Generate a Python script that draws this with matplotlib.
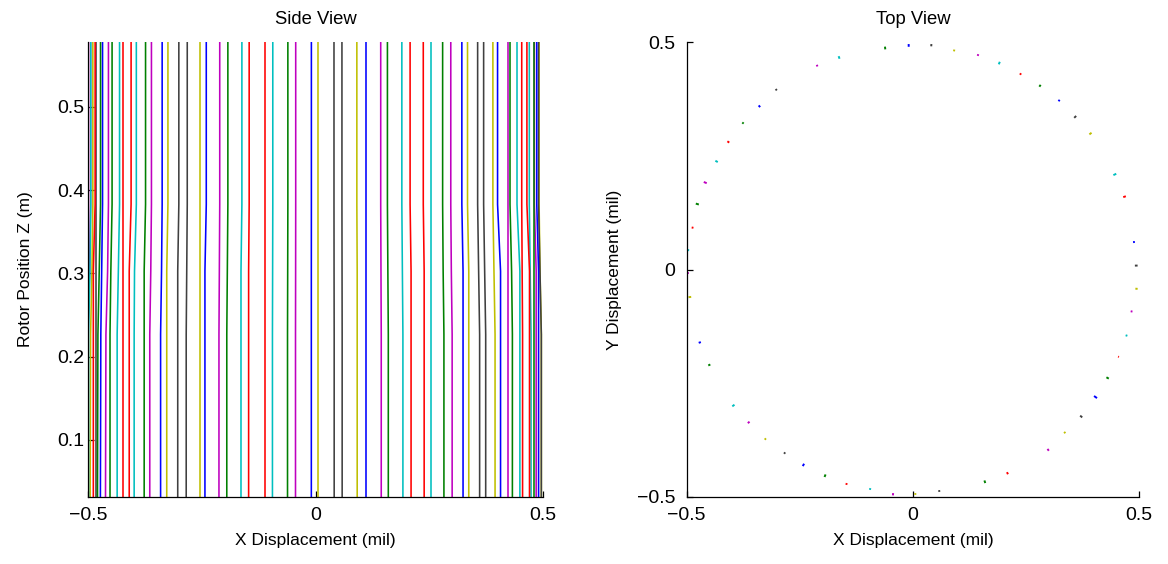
import numpy as np
import matplotlib
matplotlib.use("Agg")
import matplotlib.pyplot as plt

plt.rcParams["font.family"] = ["Liberation Sans", "DejaVu Sans"]
plt.rcParams["font.size"] = 12.5

# bearing / disk stations along the shaft (m)
z_nodes = [0.0316, 0.2266, 0.3026, 0.3829, 0.5776]

# whirl orbit, one entry per time step: phase angle (deg) and mean radius (mil)
angle_deg = [180.9, -173.0, -167.0, -161.2, -155.0, -149.0, -143.0, -137.2, -131.2, -125.1,
             -119.4, -113.2, -107.3, -101.1, -95.1, -89.4, -83.2, -77.0, -71.2, -65.0,
             -59.0, -53.0, -46.9, -41.0, -34.8, -29.0, -22.9, -17.1, -10.8, -4.9,
             1.0, 7.05, 13.0, 18.9, 25.1, 31.0, 37.3, 43.1, 49.0, 55.2,
             61.05, 67.2, 73.05, 79.3, 85.3, 91.1, 97.2, 103.0, 109.3, 115.3,
             121.0, 127.4, 133.4, 139.4, 145.5, 151.3, 157.4, 163.2, 169.3, 175.1]
radius = [0.4972, 0.4957, 0.4950, 0.4971, 0.4960, 0.4950, 0.4968, 0.4942, 0.4952, 0.4931,
          0.4930, 0.4931, 0.4937, 0.4916, 0.4954, 0.4934, 0.4903, 0.4930, 0.4928, 0.4945,
          0.4940, 0.4958, 0.4908, 0.4925, 0.4912, 0.4917, 0.4930, 0.4936, 0.4917, 0.4952,
          0.4934, 0.4920, 0.4930, 0.4941, 0.4920, 0.4930, 0.4930, 0.4909, 0.4921, 0.4913,
          0.4910, 0.4922, 0.4928, 0.4900, 0.4942, 0.4926, 0.4907, 0.4920, 0.4938, 0.4956,
          0.4950, 0.4974, 0.4933, 0.4947, 0.4945, 0.4947, 0.4956, 0.4972, 0.4956, 0.4983]

# radial offset of each station from the mean radius, 1e-3 mil (bottom -> top)
node_dr = [
    [4, 4, 0, -2, -2], [4, 3, 0, -2, -2], [0, 0, 0, 0, 0], [3, 2, 0, -2, -2], [3, 3, 1, -2, -2],
    [0, 0, 0, 0, 0], [3, 3, 2, -3, -3], [3, 3, 0, -2, -2], [2, 2, 2, -2, -2], [2, 2, 0, -2, -2],
    [3, 3, 3, -3, -3], [3, 3, 0, -3, -3], [2, 2, 2, -2, -2], [2, 2, 0, -2, -2], [3, 3, 0, -2, -2],
    [2, 2, 2, -2, -2], [2, 2, 0, -2, -2], [0, 0, 0, 0, 0], [3, 3, 0, -3, -3], [2, 2, 2, -3, -3],
    [0, 0, 0, 0, 0], [3, 3, 0, -2, -2], [2, 2, 2, -2, -2], [3, 3, 0, -3, -3], [4, 4, 4, -4, -4],
    [3, 3, 1, -3, -3], [1, 1, 0, -1, -1], [2, 2, 0, -2, -2], [2, 2, 2, -2, -2], [3, 3, 0, -2, -2],
    [3, 3, 0, -3, -3], [2, 2, 2, -2, -2], [0, 0, 0, 0, 0], [3, 3, 3, -3, -3], [4, 4, 4, -3, -3],
    [0, 0, 0, 0, 0], [3, 3, 0, -3, -3], [3, 3, 0, -3, -3], [2, 2, 2, -2, -2], [3, 3, 0, -2, -2],
    [2, 2, 2, -2, -2], [3, 3, 0, -3, -3], [2, 2, 0, -2, -2], [2, 2, 2, -2, -2], [3, 3, 0, -2, -2],
    [3, 3, 3, -3, -3], [3, 3, 0, -3, -3], [0, 0, 0, 0, 0], [3, 3, 3, -3, -3], [2, 2, 0, -2, -2],
    [0, 0, 0, 0, 0], [2, 2, 2, -2, -2], [3, 3, 0, -2, -2], [2, 2, 2, -2, -2], [3, 3, 3, -2, -2],
    [3, 3, 0, -3, -3], [5, 4, 0, -2, -2], [4, 3, 0, -3, -3], [2, 2, 2, -2, -2], [3, 3, 0, -2, -2],
]

# old MATLAB axes ColorOrder, cycled per time step
color_order = {"b": (0, 0, 1), "g": (0, 0.5, 0), "r": (1, 0, 0), "c": (0, 0.75, 0.75),
               "m": (0.75, 0, 0.75), "y": (0.75, 0.75, 0), "k": (0.25, 0.25, 0.25)}
step_color = "mykbgrc" * 8 + "mgrc"

th = np.radians(angle_deg)
r = np.array(radius)[:, None] + np.array(node_dr) / 1000.0
xs = r * np.cos(th)[:, None]
ys = r * np.sin(th)[:, None]

fig = plt.figure(figsize=(11.68, 5.64), dpi=100)
ax1 = fig.add_axes([0.0756, 0.1188, 0.3893, 0.8067])
ax2 = fig.add_axes([0.5879, 0.1188, 0.3875, 0.8067])

for i in range(len(angle_deg)):
    col = color_order[step_color[i]]
    ax1.plot(xs[i], z_nodes, color=col, lw=1.15)
    ax2.plot(xs[i], ys[i], color=col, lw=1.4, solid_capstyle="butt")

for ax in (ax1, ax2):
    ax.spines["top"].set_visible(False)
    ax.spines["right"].set_visible(False)
    for s in ("left", "bottom"):
        ax.spines[s].set_linewidth(0.9)
    ax.tick_params(direction="in", length=4, width=0.9, labelsize=14)
    ax.tick_params(axis="x", pad=7)
    ax.set_xlim(-0.5, 0.5)
    ax.set_xticks([-0.5, 0, 0.5])
    ax.set_xticklabels(["\u22120.5", "0", "0.5"])
    ax.set_xlabel("X Displacement (mil)", labelpad=7)

ax1.tick_params(axis="y", pad=3)
ax1.set_ylim(z_nodes[0], z_nodes[-1])
ax1.set_yticks([0.1, 0.2, 0.3, 0.4, 0.5])
ax1.set_ylabel("Rotor Position Z (m)", labelpad=17)
ax1.set_title("Side View", fontsize=13.3, pad=13)

ax2.tick_params(axis="y", pad=8)
ax2.set_ylim(-0.5, 0.5)
ax2.set_yticks([-0.5, 0, 0.5])
ax2.set_yticklabels(["\u22120.5", "0", "0.5"])
ax2.set_ylabel("Y Displacement (mil)", labelpad=11)
ax2.set_title("Top View", fontsize=13.3, pad=13)

fig.savefig("out.png", dpi=100)
